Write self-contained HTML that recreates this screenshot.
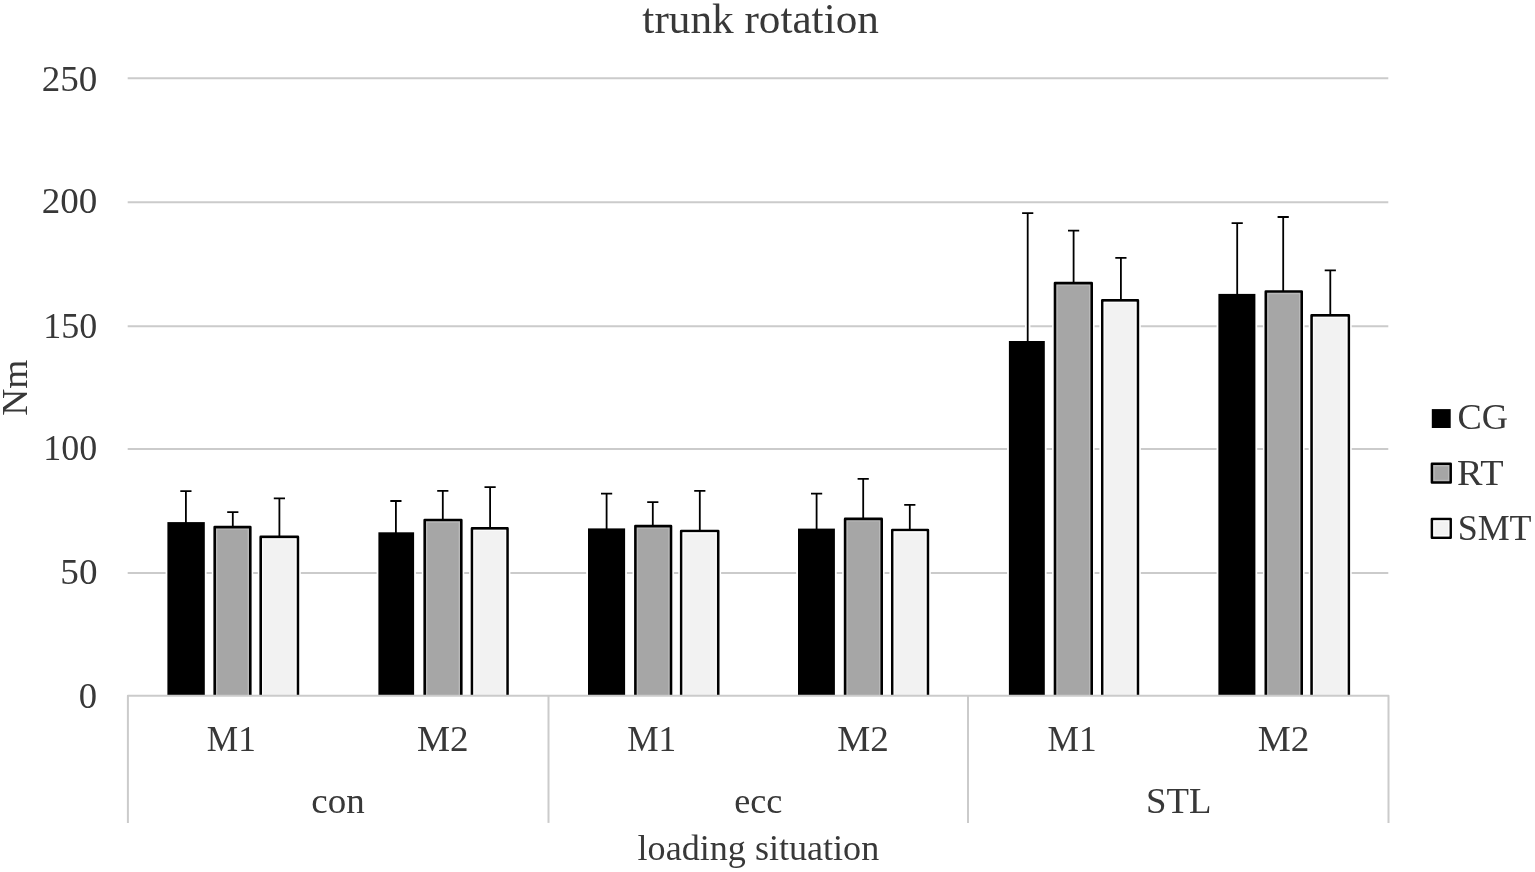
<!DOCTYPE html>
<html lang="en"><head><meta charset="utf-8"><title>trunk rotation</title>
<style>
html,body{margin:0;padding:0;background:#fff;}
body{width:1535px;height:872px;overflow:hidden;}
svg{display:block;}
text{font-family:"Liberation Serif","DejaVu Serif",serif;fill:#383838;}
.lab{font-size:36px;}
.ttl{font-size:41.8px;}
.low{font-size:35px;}
</style></head><body>
<svg width="1535" height="872" viewBox="0 0 1535 872">
<rect x="0" y="0" width="1535" height="872" fill="#ffffff"/>
<g stroke="#cbcbcb" stroke-width="2" fill="none">
<line x1="127.7" y1="573.05" x2="1388.3" y2="573.05"/>
<line x1="127.7" y1="449.00" x2="1388.3" y2="449.00"/>
<line x1="127.7" y1="326.20" x2="1388.3" y2="326.20"/>
<line x1="127.7" y1="202.30" x2="1388.3" y2="202.30"/>
<line x1="127.7" y1="78.20" x2="1388.3" y2="78.20"/>
</g>
<g fill="#ffffff" stroke="#ffffff" stroke-linecap="square">
<rect x="165.60" y="520.30" width="41.00" height="175.55" stroke="none"/>
<path d="M185.90 522.10V492.10" stroke-width="5.40" fill="none"/>
<rect x="211.80" y="524.20" width="41.40" height="171.65" stroke="none"/>
<path d="M232.80 526.00V513.20" stroke-width="5.40" fill="none"/>
<rect x="257.80" y="534.00" width="43.00" height="161.85" stroke="none"/>
<path d="M279.40 535.80V499.40" stroke-width="5.40" fill="none"/>
<rect x="376.60" y="530.50" width="39.30" height="165.35" stroke="none"/>
<path d="M395.90 532.30V502.00" stroke-width="5.40" fill="none"/>
<rect x="421.80" y="517.10" width="42.40" height="178.75" stroke="none"/>
<path d="M442.80 518.90V491.80" stroke-width="5.40" fill="none"/>
<rect x="469.10" y="525.50" width="41.30" height="170.35" stroke="none"/>
<path d="M490.10 527.30V488.20" stroke-width="5.40" fill="none"/>
<rect x="586.20" y="526.60" width="40.70" height="169.25" stroke="none"/>
<path d="M606.60 528.40V494.70" stroke-width="5.40" fill="none"/>
<rect x="632.50" y="523.20" width="41.40" height="172.65" stroke="none"/>
<path d="M652.80 525.00V503.20" stroke-width="5.40" fill="none"/>
<rect x="678.30" y="528.10" width="42.80" height="167.75" stroke="none"/>
<path d="M699.80 529.90V491.80" stroke-width="5.40" fill="none"/>
<rect x="796.20" y="526.80" width="40.50" height="169.05" stroke="none"/>
<path d="M816.60 528.60V494.70" stroke-width="5.40" fill="none"/>
<rect x="842.20" y="516.00" width="42.40" height="179.85" stroke="none"/>
<path d="M863.20 517.80V479.90" stroke-width="5.40" fill="none"/>
<rect x="889.40" y="527.10" width="41.40" height="168.75" stroke="none"/>
<path d="M909.80 528.90V505.80" stroke-width="5.40" fill="none"/>
<rect x="1007.10" y="339.20" width="39.50" height="356.65" stroke="none"/>
<path d="M1027.70 341.00V214.20" stroke-width="5.40" fill="none"/>
<rect x="1052.10" y="280.20" width="42.50" height="415.65" stroke="none"/>
<path d="M1073.60 282.00V231.70" stroke-width="5.40" fill="none"/>
<rect x="1099.40" y="297.50" width="41.40" height="398.35" stroke="none"/>
<path d="M1120.90 299.30V258.90" stroke-width="5.40" fill="none"/>
<rect x="1216.60" y="292.10" width="40.60" height="403.75" stroke="none"/>
<path d="M1237.20 293.90V224.10" stroke-width="5.40" fill="none"/>
<rect x="1262.90" y="288.60" width="41.70" height="407.25" stroke="none"/>
<path d="M1283.20 290.40V218.00" stroke-width="5.40" fill="none"/>
<rect x="1308.70" y="312.50" width="43.00" height="383.35" stroke="none"/>
<path d="M1330.30 314.30V271.40" stroke-width="5.40" fill="none"/>
</g>
<g stroke="#000000" stroke-width="2.6" stroke-linejoin="round">
<rect x="167.40" y="522.10" width="37.40" height="173.75" fill="#000000" stroke="none"/>
<path d="M214.70 695.85V527.10H250.30V695.85" fill="#a6a6a6"/>
<path d="M260.70 695.85V536.90H297.90V695.85" fill="#f2f2f2"/>
<rect x="378.40" y="532.30" width="35.70" height="163.55" fill="#000000" stroke="none"/>
<path d="M424.70 695.85V520.00H461.30V695.85" fill="#a6a6a6"/>
<path d="M472.00 695.85V528.40H507.50V695.85" fill="#f2f2f2"/>
<rect x="588.00" y="528.40" width="37.10" height="167.45" fill="#000000" stroke="none"/>
<path d="M635.40 695.85V526.10H671.00V695.85" fill="#a6a6a6"/>
<path d="M681.20 695.85V531.00H718.20V695.85" fill="#f2f2f2"/>
<rect x="798.00" y="528.60" width="36.90" height="167.25" fill="#000000" stroke="none"/>
<path d="M845.10 695.85V518.90H881.70V695.85" fill="#a6a6a6"/>
<path d="M892.30 695.85V530.00H927.90V695.85" fill="#f2f2f2"/>
<rect x="1008.90" y="341.00" width="35.90" height="354.85" fill="#000000" stroke="none"/>
<path d="M1055.00 695.85V283.10H1091.70V695.85" fill="#a6a6a6"/>
<path d="M1102.30 695.85V300.40H1137.90V695.85" fill="#f2f2f2"/>
<rect x="1218.40" y="293.90" width="37.00" height="401.95" fill="#000000" stroke="none"/>
<path d="M1265.80 695.85V291.50H1301.70V695.85" fill="#a6a6a6"/>
<path d="M1311.60 695.85V315.40H1348.80V695.85" fill="#f2f2f2"/>
</g>
<g fill="none" stroke="#ffffff" stroke-width="1.4">
<path d="M216.70 695.85V529.10H248.30V695.85" stroke-opacity="0.22"/>
<path d="M262.70 695.85V538.90H295.90V695.85" stroke-opacity="0.7"/>
<path d="M426.70 695.85V522.00H459.30V695.85" stroke-opacity="0.22"/>
<path d="M474.00 695.85V530.40H505.50V695.85" stroke-opacity="0.7"/>
<path d="M637.40 695.85V528.10H669.00V695.85" stroke-opacity="0.22"/>
<path d="M683.20 695.85V533.00H716.20V695.85" stroke-opacity="0.7"/>
<path d="M847.10 695.85V520.90H879.70V695.85" stroke-opacity="0.22"/>
<path d="M894.30 695.85V532.00H925.90V695.85" stroke-opacity="0.7"/>
<path d="M1057.00 695.85V285.10H1089.70V695.85" stroke-opacity="0.22"/>
<path d="M1104.30 695.85V302.40H1135.90V695.85" stroke-opacity="0.7"/>
<path d="M1267.80 695.85V293.50H1299.70V695.85" stroke-opacity="0.22"/>
<path d="M1313.60 695.85V317.40H1346.80V695.85" stroke-opacity="0.7"/>
</g>
<g stroke="#000000" stroke-width="1.8" fill="none">
<path d="M185.90 523.10V491.10M180.30 491.10H191.50"/>
<path d="M232.80 527.00V512.20M227.20 512.20H238.40"/>
<path d="M279.40 536.80V498.40M273.80 498.40H285.00"/>
<path d="M395.90 533.30V501.00M390.30 501.00H401.50"/>
<path d="M442.80 519.90V490.80M437.20 490.80H448.40"/>
<path d="M490.10 528.30V487.20M484.50 487.20H495.70"/>
<path d="M606.60 529.40V493.70M601.00 493.70H612.20"/>
<path d="M652.80 526.00V502.20M647.20 502.20H658.40"/>
<path d="M699.80 530.90V490.80M694.20 490.80H705.40"/>
<path d="M816.60 529.60V493.70M811.00 493.70H822.20"/>
<path d="M863.20 518.80V478.90M857.60 478.90H868.80"/>
<path d="M909.80 529.90V504.80M904.20 504.80H915.40"/>
<path d="M1027.70 342.00V213.20M1022.10 213.20H1033.30"/>
<path d="M1073.60 283.00V230.70M1068.00 230.70H1079.20"/>
<path d="M1120.90 300.30V257.90M1115.30 257.90H1126.50"/>
<path d="M1237.20 294.90V223.10M1231.60 223.10H1242.80"/>
<path d="M1283.20 291.40V217.00M1277.60 217.00H1288.80"/>
<path d="M1330.30 315.30V270.40M1324.70 270.40H1335.90"/>
</g>
<g stroke="#cbcbcb" stroke-width="2" fill="none">
<path d="M127.9 822.9V695.85H1388.5V822.9" stroke-linejoin="round"/>
<line x1="548.5" y1="695.85" x2="548.5" y2="822.9"/>
<line x1="968" y1="695.85" x2="968" y2="822.9"/>
</g>
<text class="ttl" transform="translate(642.37 33.30) scale(1.0343 1)">trunk rotation</text>
<text class="lab" transform="translate(41.73 90.50) scale(1.0287 1)">250</text>
<text class="lab" transform="translate(41.73 213.20) scale(1.0287 1)">200</text>
<text class="lab" transform="translate(43.37 337.50) scale(0.9976 1)">150</text>
<text class="lab" transform="translate(43.37 460.10) scale(0.9976 1)">100</text>
<text class="lab" transform="translate(60.37 584.00) scale(1.0309 1)">50</text>
<text class="lab" transform="translate(78.73 707.80) scale(1.0185 1)">0</text>
<text class="low" transform="translate(311.32 813.30) scale(1.0565 1)">con</text>
<text class="low" transform="translate(734.25 813.30) scale(1.0340 1)">ecc</text>
<text class="lab" transform="translate(1146.11 813.30) scale(1.0222 1)">STL</text>
<text class="low" transform="translate(637.58 860.20) scale(1.0317 1)">loading situation</text>
<text class="lab" transform="translate(1457.55 428.60) scale(1.0101 1)">CG</text>
<text class="lab" transform="translate(1456.95 485.00) scale(1.0613 1)">RT</text>
<text class="lab" transform="translate(1457.66 539.60) scale(0.9986 1)">SMT</text>
<text class="lab" transform="translate(206.84 750.60) scale(0.9808 1)">M1</text>
<text class="lab" transform="translate(416.99 750.60) scale(1.0324 1)">M2</text>
<text class="lab" transform="translate(627.18 750.60) scale(0.9808 1)">M1</text>
<text class="lab" transform="translate(837.33 750.60) scale(1.0324 1)">M2</text>
<text class="lab" transform="translate(1047.52 750.60) scale(0.9808 1)">M1</text>
<text class="lab" transform="translate(1257.67 750.60) scale(1.0324 1)">M2</text>
<text class="lab" transform="translate(27.1 415.82) rotate(-90) scale(1.0386 1)">Nm</text>
<rect x="1431.8" y="409.1" width="18.9" height="18.9" fill="#000000"/>
<rect x="1431.9" y="463.7" width="18.8" height="18.8" fill="#a6a6a6" stroke="#000000" stroke-width="2.5" stroke-linejoin="round"/>
<rect x="1431.9" y="518.9" width="18.8" height="18.8" fill="#f2f2f2" stroke="#000000" stroke-width="2.5" stroke-linejoin="round"/>
<rect x="1434.0" y="465.8" width="14.6" height="14.6" fill="none" stroke="#ffffff" stroke-opacity="0.22" stroke-width="1.4"/>
<rect x="1434.0" y="521.0" width="14.6" height="14.6" fill="none" stroke="#ffffff" stroke-opacity="0.7" stroke-width="1.4"/>
</svg>
</body></html>
